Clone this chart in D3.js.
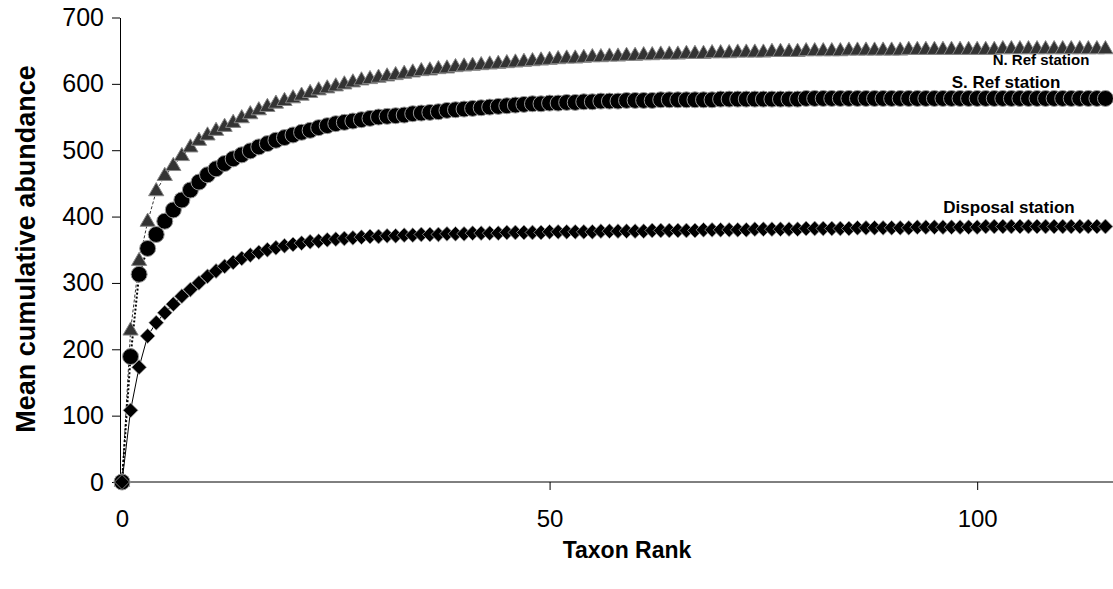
<!DOCTYPE html>
<html>
<head>
<meta charset="utf-8">
<script src="https://cdn.jsdelivr.net/npm/d3@7"></script>
<style>
  body { margin: 0; background: #fff; }
  svg { display: block; font-family: "Liberation Sans", Arial, sans-serif; }
</style>
</head>
<body>
<svg id="chart" width="1113" height="589"></svg>
<script>
// 数据：按秩次 0..115 的平均累积丰度
const nRef = [0,228,333,392,438,461,476,491,504,514,
  522,529,535,541,548,554,560,565,570,574,
  578,582,586,590,593,596,599,602,605,607,
  609,611,613,615,617,619,620,622,623,625,
  626,627,628,629,630,631,632,633,634,635,
  636,637,638,638,639,640,640,641,641,642,
  642,643,643,644,644,644,645,645,645,646,
  646,646,647,647,647,647,648,648,648,648,
  649,649,649,649,649,650,650,650,650,650,
  650,650,651,651,651,651,651,651,651,651,
  651,651,651,652,652,652,652,652,652,652,
  652,652,652,652,652,652];

const sRef = [0,189,313,352,373,393,410,425,440,452,
  463,472,480,487,493,499,505,510,515,519,
  523,527,530,534,537,540,542,544,546,548,
  550,551,552,553,555,556,557,558,560,561,
  562,563,564,565,566,567,568,569,570,570,
  571,571,572,572,573,573,574,574,574,575,
  575,575,575,576,576,576,576,576,576,576,
  577,577,577,577,577,577,577,577,577,577,
  578,578,578,578,578,578,578,578,578,578,
  578,578,578,578,578,578,578,578,578,578,
  578,578,578,578,578,578,578,578,578,578,
  578,578,578,578,578,578];

const disposal = [0,108,173,220,240,255,268,280,290,300,
  310,318,325,331,337,342,346,350,353,356,
  358,360,362,363,365,366,367,368,369,370,
  370,371,371,372,372,373,373,373,374,374,
  374,375,375,375,375,376,376,376,376,376,
  377,377,377,377,377,377,378,378,378,378,
  378,378,379,379,379,379,379,379,380,380,
  380,380,380,380,381,381,381,381,381,381,
  382,382,382,382,382,382,383,383,383,383,
  383,383,383,384,384,384,384,384,384,384,
  384,385,385,385,385,385,385,385,385,385,
  385,385,385,385,385,385];

const yTicks = [0, 100, 200, 300, 400, 500, 600, 700];
const xTicks = [0, 50, 100];

const svg = d3.select('#chart');

const xScale = d3.scaleLinear().domain([0, 116]).range([122, 1114]);
const yScale = d3.scaleLinear().domain([0, 700]).range([482, 17.5]);
const axisX = 120;

// 坐标轴
const yAxis = d3.axisLeft(yScale).tickValues(yTicks).tickSize(8).tickSizeOuter(0).tickPadding(8);
const gy = svg.append('g').attr('transform', `translate(${axisX},0)`).call(yAxis);
gy.selectAll('text').attr('font-size', 25).attr('fill', '#000');
gy.selectAll('line, path').attr('stroke', '#000');

const xAxis = d3.axisBottom(xScale).tickValues(xTicks).tickSize(8).tickSizeOuter(0).tickPadding(20);
const gx = svg.append('g').attr('transform', `translate(0,${yScale(0)})`).call(xAxis);
gx.select('.domain').attr('d', `M${axisX},0H1113`);
gx.selectAll('text').attr('font-size', 24).attr('fill', '#000');
gx.selectAll('line, path').attr('stroke', '#000');
gx.selectAll('.tick').filter(d => d === 0).select('line').remove();

// 轴标题
svg.append('text')
  .attr('x', 627).attr('y', 558)
  .attr('text-anchor', 'middle')
  .attr('font-size', 23).attr('font-weight', 'bold')
  .text('Taxon Rank');

svg.append('text')
  .attr('transform', 'translate(35,249) rotate(-90)')
  .attr('text-anchor', 'middle')
  .attr('font-size', 27).attr('font-weight', 'bold')
  .text('Mean cumulative abundance');

// 折线 + 标记
const line = d3.line().x((d, i) => xScale(i)).y(d => yScale(d));

svg.append('path').datum(nRef).attr('d', line)
  .attr('fill', 'none').attr('stroke', '#333').attr('stroke-width', 1).attr('stroke-dasharray', '3,2');
svg.append('path').datum(sRef).attr('d', line)
  .attr('fill', 'none').attr('stroke', '#000').attr('stroke-width', 2).attr('stroke-dasharray', '2,2');
svg.append('path').datum(disposal).attr('d', line)
  .attr('fill', 'none').attr('stroke', '#000').attr('stroke-width', 1);

const triangle = d3.symbol().type(d3.symbolTriangle).size(100);
svg.append('g').selectAll('path').data(nRef).enter().append('path')
  .attr('d', triangle)
  .attr('transform', (d, i) => `translate(${xScale(i)},${yScale(d)})`)
  .attr('fill', '#333').attr('stroke', '#888').attr('stroke-width', 1);

svg.append('g').selectAll('circle').data(sRef).enter().append('circle')
  .attr('cx', (d, i) => xScale(i)).attr('cy', d => yScale(d)).attr('r', 8)
  .attr('fill', '#000').attr('stroke', '#999').attr('stroke-width', 1);

const diamond = d3.symbol().type(d3.symbolSquare).size(110);
svg.append('g').selectAll('path').data(disposal).enter().append('path')
  .attr('d', diamond)
  .attr('transform', (d, i) => `translate(${xScale(i)},${yScale(d)}) rotate(45)`)
  .attr('fill', '#000').attr('stroke', '#aaa').attr('stroke-width', 0.7);

// 系列标签
const labels = [
  { text: 'N. Ref station', x: 1041, y: 65, size: 15 },
  { text: 'S. Ref station', x: 1006, y: 88, size: 17 },
  { text: 'Disposal station', x: 1009, y: 213, size: 17 }
];
svg.append('g').selectAll('text').data(labels).enter().append('text')
  .attr('x', d => d.x).attr('y', d => d.y)
  .attr('text-anchor', 'middle')
  .attr('font-size', d => d.size).attr('font-weight', 'bold')
  .text(d => d.text);
</script>
</body>
</html>
